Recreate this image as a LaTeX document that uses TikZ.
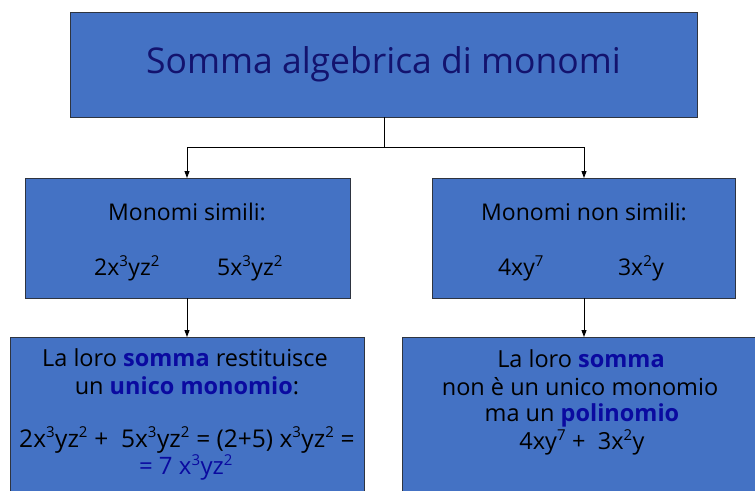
\documentclass[tikz,border=0pt]{standalone}
\usepackage{fontspec}
\setmainfont{Open Sans}
\usetikzlibrary{arrows.meta}
\definecolor{boxblue}{HTML}{4472C4}
\definecolor{boxedge}{HTML}{2E3440}
\definecolor{navy}{HTML}{13136E}
\definecolor{hl}{HTML}{0A0AA0}
\newcommand{\sups}[1]{\textsuperscript{\fontsize{15}{15}\selectfont #1}}
\begin{document}
\begin{tikzpicture}[x=1pt,y=-1pt,
  box/.style={draw=boxedge,line width=0.9pt,fill=boxblue},
  txt/.style={font=\fontsize{23}{28}\selectfont,align=center,anchor=center,inner sep=0pt},
  conn/.style={draw=black,line width=0.9pt},
  arr/.style={conn,-{Triangle[length=7pt,width=5pt]}}]
\useasboundingbox (0,0) rectangle (755,490);
\clip (0,0) rectangle (755,490);
\draw[box] (70,12) rectangle (697,117);
\node[font=\fontsize{35.5}{40}\selectfont,text=navy,inner sep=0pt] (title) at (383.5,64) {Somma algebrica di monomi};
\draw[box] (25,178) rectangle (350,298);
\draw[box] (432,178) rectangle (735,298);
\draw[box] (10,337) rectangle (364,510);
\draw[box] (402,337) rectangle (770,510);
\coordinate (tb) at (384,117);
\coordinate (j) at (384,147);
\coordinate (jl) at (187,147);
\coordinate (jr) at (584,147);
\coordinate (ml) at (187,178);
\coordinate (mr) at (584,178);
\coordinate (mlb) at (187,298);
\coordinate (mrb) at (584,298);
\coordinate (bl) at (187,337);
\coordinate (br) at (584,337);
\draw[conn] (tb) -- (j);
\draw[arr] (j) -- (jl) -- (ml);
\draw[arr] (j) -- (jr) -- (mr);
\draw[arr] (mlb) -- (bl);
\draw[arr] (mrb) -- (br);
\node[txt] (ms) at (187,212) {Monomi simili:};
\node[txt] (m1) at (127,268) {2x\sups{3}yz\sups{2}};
\node[txt] (m2) at (250,268) {5x\sups{3}yz\sups{2}};
\node[txt] (mn) at (584,212) {Monomi non simili:};
\node[txt] (n1) at (521,268) {4xy\sups{7}};
\node[txt] (n2) at (641,268) {3x\sups{2}y};
\node[txt,font=\fontsize{23.5}{28}\selectfont] (l1) at (185,358) {La loro \textbf{\color{hl}somma} restituisce};
\node[txt,font=\fontsize{23.5}{28}\selectfont] (l2) at (187,386) {un \textbf{\color{hl}unico monomio}:};
\node[txt,font=\fontsize{24.5}{28}\selectfont] (l3) at (187,440) {2x\sups{3}yz\sups{2} +\ \ 5x\sups{3}yz\sups{2} = (2+5) x\sups{3}yz\sups{2} =};
\node[txt,font=\fontsize{24}{28}\selectfont,text=hl] (l4) at (186,467) {= 7 x\sups{3}yz\sups{2}};
\node[txt,font=\fontsize{23.5}{28}\selectfont] (r1) at (581,359) {La loro \textbf{\color{hl}somma}};
\node[txt,font=\fontsize{23.5}{28}\selectfont] (r2) at (580,387) {non è un unico monomio};
\node[txt,font=\fontsize{23.5}{28}\selectfont] (r3) at (582,415) {ma un \textbf{\color{hl}polinomio}};
\node[txt,font=\fontsize{23.5}{28}\selectfont] (r4) at (582,442) {4xy\sups{7} +\ \ 3x\sups{2}y};
\end{tikzpicture}
\end{document}
